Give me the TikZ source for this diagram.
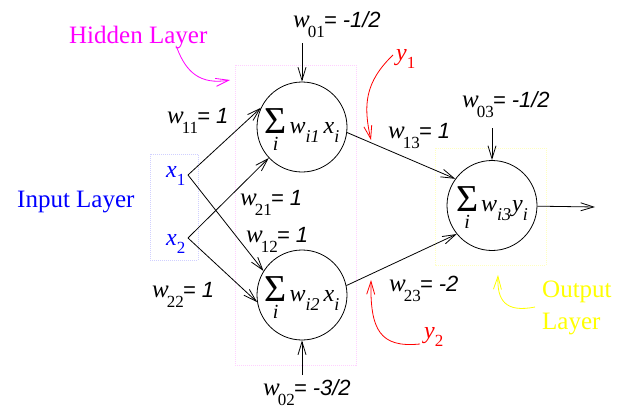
\documentclass[tikz,border=0pt]{standalone}
\usepackage{fontspec}
\setmainfont{Liberation Serif}
\setsansfont{Liberation Sans}
\usetikzlibrary{arrows.meta}
\definecolor{inboxc}{HTML}{D0D0FF}
\definecolor{hidboxc}{HTML}{FFD0FF}
\definecolor{outboxc}{HTML}{FFFFC0}
\definecolor{magc}{RGB}{255,0,255}
\definecolor{bluc}{RGB}{0,0,255}
\definecolor{redc}{RGB}{255,0,0}
\definecolor{yelc}{RGB}{255,255,0}
\newcommand{\sumi}{{\fontsize{38}{38}\selectfont\makebox[22pt][c]{Σ}}\llap{\raisebox{-17pt}{\makebox[22pt][c]{\fontsize{20}{20}\selectfont\itshape i}}}}
\newcommand{\sbx}[1]{\raisebox{-9pt}{\fontsize{18}{18}\selectfont\itshape #1}}
\newcommand{\wlab}[2]{{\fontsize{25}{28}\selectfont\itshape w}\kern-2pt\raisebox{-10pt}{\fontsize{17}{17}\selectfont #1}\kern-1pt{\sffamily\itshape\fontsize{22}{22}\selectfont= #2}}
\newcommand{\xsub}[2]{\textit{#1}\raisebox{-8pt}{\fontsize{17}{17}\selectfont #2}}
\tikzset{
  every node/.style={inner sep=0pt, font=\fontsize{24}{27}\selectfont},
  neuron/.style={circle, draw, line width=0.8pt, minimum size=90pt, text height=20pt, text depth=8pt},
  arr/.style={line width=0.8pt, -{Straight Barb[length=13pt,width=8pt]}},
  lbl/.style={anchor=base west},
  layerlbl/.style={anchor=base west, font=\fontsize{25}{28}\selectfont},
  boxline/.style={densely dotted, line width=1pt}
}
\begin{document}
\begin{tikzpicture}[x=1pt,y=-1pt]
\useasboundingbox (0,0) rectangle (625,407);
% layer boxes
\draw[boxline, inboxc] (150,154) rectangle (198,260);
\draw[boxline, hidboxc] (235,65) rectangle (356,365);
\draw[boxline, outboxc] (435,148) rectangle (546,265);
% neurons
\node[neuron] (h1) at (302,127) {\sumi\kern3pt\textit{w}\sbx{i1}\kern4pt\textit{x}\sbx{i}};
\node[neuron] (h2) at (302,295) {\sumi\kern3pt\textit{w}\sbx{i2}\kern4pt\textit{x}\sbx{i}};
\node[neuron] (out) at (492,205.5) {\sumi\kern3pt\textit{w}\sbx{i3}\kern1pt\textit{y}\sbx{i}};
% inputs
\node[lbl, bluc] (x1) at (166,177) {\xsub{x}{1}};
\node[lbl, bluc] (x2) at (166,245) {\xsub{x}{2}};
\coordinate (v1) at (188,175);
\coordinate (v2) at (188,238);
% connections
\draw[arr] (v1) -- (h1.155);
\draw[arr] (v1) -- (h2.148);
\draw[arr] (v2) -- (h1.223);
\draw[arr] (v2) -- (h2.189);
\draw[arr] (h1.-7) -- (out.144);
\draw[arr] (h2.12) -- (out.219);
\coordinate (oe) at (595,207);
\draw[arr] (out) -- (oe);
% bias arrows
\coordinate (b1) at (302,43);
\coordinate (b2) at (302,375);
\coordinate (b3) at (492,128);
\draw[arr] (b1) -- (h1.north);
\draw[arr] (b2) -- (h2.south);
\draw[arr] (b3) -- (out.north);
% weight labels
\node[lbl] (lw01) at (293,27) {\wlab{01}{-1/2}};
\node[lbl] (lw11) at (167,123) {\wlab{11}{1}};
\node[lbl] (lw21) at (240,205) {\wlab{21}{1}};
\node[lbl] (lw12) at (246,242) {\wlab{12}{1}};
\node[lbl] (lw22) at (152,297) {\wlab{22}{1}};
\node[lbl] (lw02) at (263,395) {\wlab{02}{-3/2}};
\node[lbl] (lw13) at (388,138) {\wlab{13}{1}};
\node[lbl] (lw03) at (462,107) {\wlab{03}{-1/2}};
\node[lbl] (lw23) at (389,291) {\wlab{23}{-2}};
% layer labels
\node[layerlbl, magc] (hid) at (69,43) {Hidden Layer};
\node[layerlbl, bluc] (inp) at (17,207) {Input Layer};
\node[layerlbl, yelc] (outl1) at (542,297) {Output};
\node[layerlbl, yelc] (outl2) at (542,329) {Layer};
\node[lbl, redc] (y1) at (396,60) {\xsub{y}{1}};
\node[lbl, redc] (y2) at (424,338) {\xsub{y}{2}};
% pointer arrows
\coordinate (ph) at (177,48);
\coordinate (phe) at (230,80);
\draw[arr, magc] (ph) .. controls (186,72) and (200,85) .. (phe);
\coordinate (py1) at (393,55);
\coordinate (py1e) at (371,140);
\draw[arr, redc] (py1) .. controls (365,82) and (363,105) .. (py1e);
\coordinate (py2) at (420,344);
\coordinate (py2e) at (371,280);
\draw[arr, redc] (py2) .. controls (380,348) and (370,330) .. (py2e);
\coordinate (po) at (535,307);
\coordinate (poe) at (498,275);
\draw[arr, yelc] (po) .. controls (505,313) and (497,300) .. (poe);
\end{tikzpicture}
\end{document}
